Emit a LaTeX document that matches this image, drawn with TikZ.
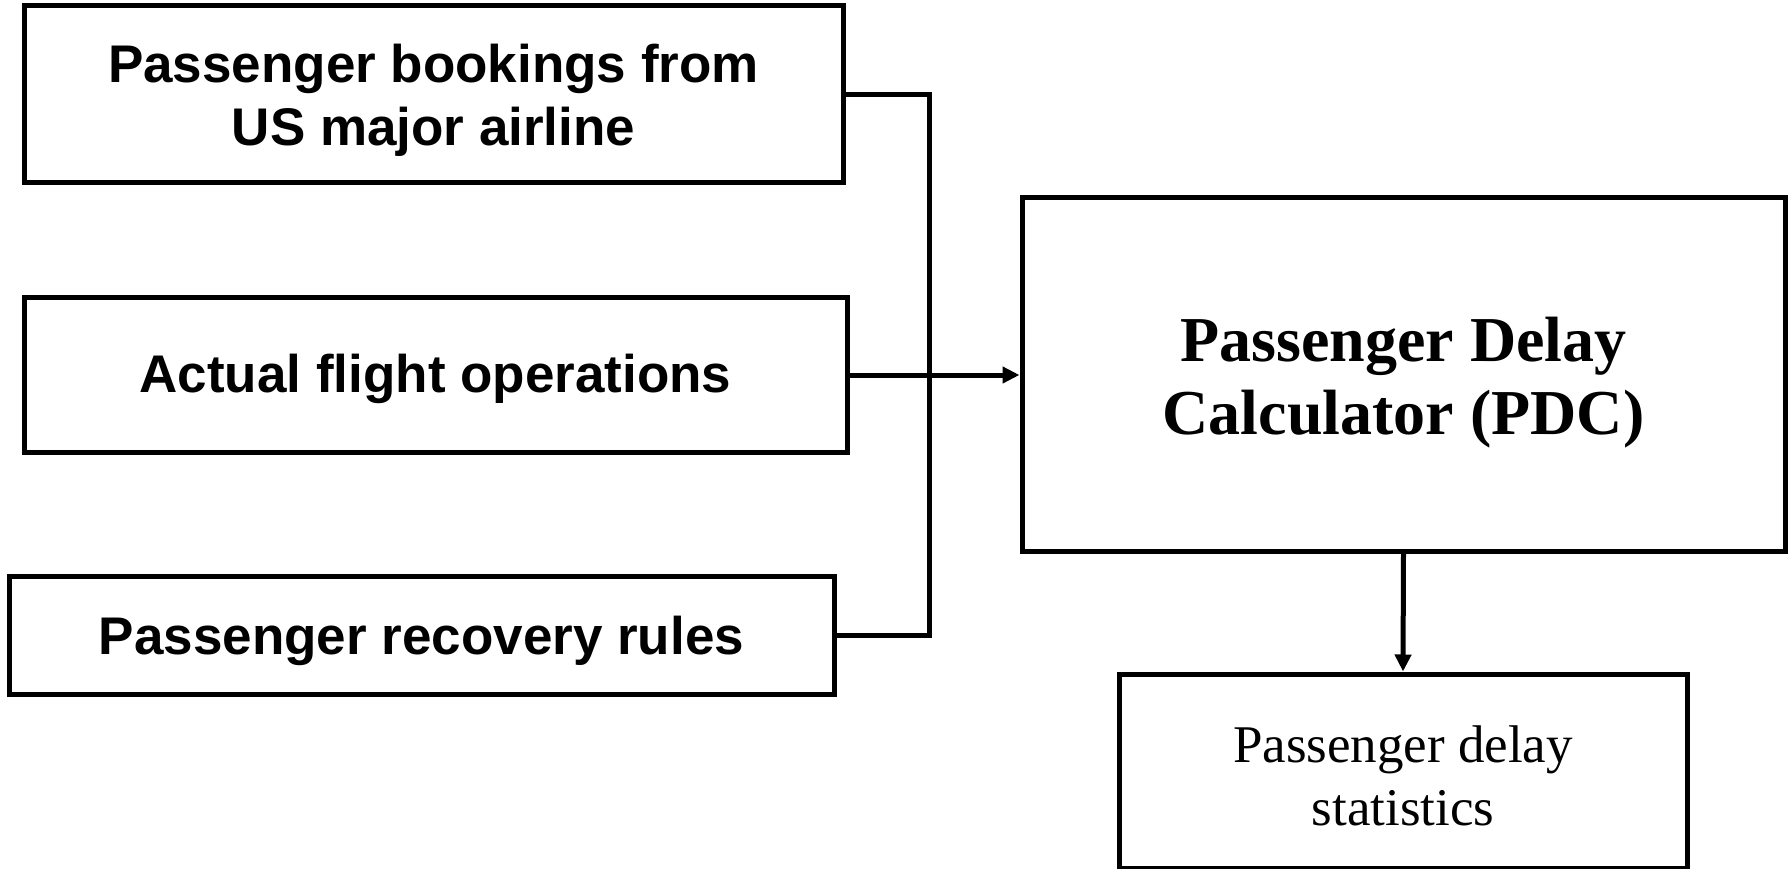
\documentclass[tikz,border=0pt]{standalone}
\usepackage{fontspec}
\setmainfont{Liberation Serif}
\newfontfamily\sansf{Liberation Sans}
\usetikzlibrary{arrows.meta}
\newcommand\boxtext[3]{\raisebox{#1}[0pt][0pt]{\parbox[t]{#2}{\centering #3}}}
\begin{document}
\begin{tikzpicture}[x=1pt,y=-1pt,line width=5pt,
  inbox/.style={draw,line width=5pt,inner sep=0pt,
    font=\sansf\bfseries\fontsize{53}{63}\selectfont},
  pdcbox/.style={draw,line width=5pt,inner sep=0pt,
    font=\bfseries\fontsize{64}{73}\selectfont},
  outbox/.style={draw,line width=5pt,inner sep=0pt,
    font=\fontsize{53}{63}\selectfont},
  conn/.style={line width=5pt},
  arr/.style={line width=5pt,-{Triangle[length=17pt,width=16pt]}}]
\useasboundingbox (0,0) rectangle (1792,869);
\node[inbox,minimum width=819pt,minimum height=177pt] (b1) at (433.5,94.5)
  {\boxtext{12pt}{800pt}{Passenger bookings from\\US major airline}};
\node[inbox,minimum width=823pt,minimum height=155pt] (b2) at (435.5,375)
  {\boxtext{-17pt}{800pt}{Actual flight operations}};
\node[inbox,minimum width=825pt,minimum height=118pt] (b3) at (421.5,635)
  {\boxtext{-19pt}{800pt}{Passenger recovery rules}};
\node[pdcbox,minimum width=763pt,minimum height=353pt] (pdc) at (1403.5,374.5)
  {\boxtext{13.5pt}{740pt}{Passenger Delay\\Calculator (PDC)}};
\node[outbox,minimum width=568pt,minimum height=194pt] (stats) at (1403,771)
  {\boxtext{9pt}{550pt}{Passenger delay\\statistics}};
\coordinate (j1) at (929.5,94.5);
\coordinate (j3) at (929.5,635);
\draw[conn] (b1.east) -- (j1) -- (j3) -- (b3.east);
\draw[arr] (b2.east) -- (b2.east -| pdc.west);
\draw[arr] (pdc.south) -- (stats.north);
\end{tikzpicture}
\end{document}
